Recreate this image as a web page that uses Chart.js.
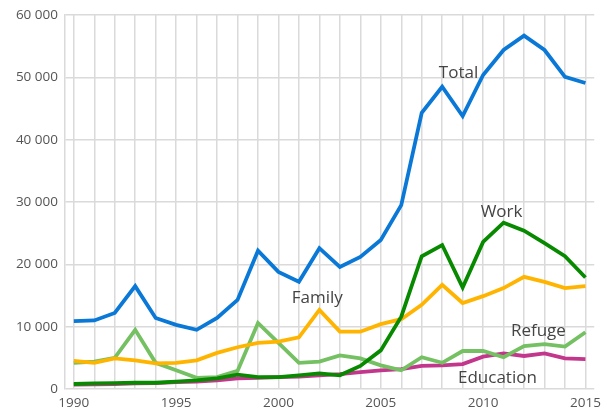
<!DOCTYPE html>
<html>
<head>
<meta charset="utf-8">
<script src="https://cdn.jsdelivr.net/npm/chart.js@4/dist/chart.umd.min.js"></script>
<style>
  html, body { margin: 0; padding: 0; background: #fff; }
  #wrap { width: 607px; height: 414px; }
</style>
</head>
<body>
<div id="wrap"><canvas id="chart"></canvas></div>
<script>
// years on the x axis
const years = [1990,1991,1992,1993,1994,1995,1996,1997,1998,1999,2000,2001,2002,
  2003,2004,2005,2006,2007,2008,2009,2010,2011,2012,2013,2014,2015];

// series values
const total = [10900,11000,12200,16500,11400,10300,9500,11400,14300,22200,18800,17200,22600,
  19600,21200,23900,29500,44300,48500,43800,50400,54400,56700,54400,50100,49100];
const work = [800,900,950,1000,1000,1200,1400,1700,2300,1900,1900,2200,2500,
  2200,3700,6200,11600,21300,23100,16300,23600,26700,25400,23400,21300,17900];
const family = [4500,4200,4900,4600,4100,4200,4600,5800,6700,7400,7600,8300,12700,
  9200,9200,10400,11200,13500,16700,13800,14900,16200,18000,17200,16200,16500];
const refuge = [4200,4400,5000,9500,4200,3000,1800,1900,2900,10600,7400,4200,4400,
  5400,4900,3800,3000,5100,4200,6100,6100,5100,6900,7200,6800,9100];
const education = [700,750,800,900,950,1100,1200,1400,1700,1800,1900,2000,2200,
  2400,2700,3000,3200,3700,3800,4000,5200,5700,5300,5700,4900,4800];

// in-chart series labels (data coordinates)
const labelNames = ['Total','Work','Family','Refuge','Education'];
const labelX = [2008.8, 2010.9, 2001.9, 2012.7, 2010.7];
const labelY = [50700, 28400, 14600, 9300, 1800];

const yTicks = [0,10000,20000,30000,40000,50000,60000];
const xLabelYears = [1990,1995,2000,2005,2010,2015];

function pts(vals) {
  return vals.map((v, i) => ({ x: years[i], y: v }));
}

function fmt(n) {
  return String(n).replace(/\B(?=(\d{3})+(?!\d))/g, ' ');
}

const seriesLabels = {
  id: 'seriesLabels',
  afterDatasetsDraw(chart) {
    const { ctx, scales: { x, y } } = chart;
    ctx.save();
    ctx.font = '17px "Open Sans"';
    ctx.fillStyle = '#444';
    ctx.textAlign = 'center';
    ctx.textBaseline = 'middle';
    labelNames.forEach((name, i) => {
      ctx.fillText(name, x.getPixelForValue(labelX[i]), y.getPixelForValue(labelY[i]));
    });
    ctx.restore();
  }
};

function line(label, data, color) {
  return {
    label: label,
    data: pts(data),
    borderColor: color,
    backgroundColor: color,
    borderWidth: 3.8,
    pointRadius: 0,
    tension: 0,
    fill: false
  };
}

new Chart(document.getElementById('chart'), {
  type: 'line',
  data: {
    datasets: [
      line('Total', total, '#0a78d6'),
      line('Work', work, '#078a00'),
      line('Family', family, '#ffb400'),
      line('Refuge', refuge, '#74c062'),
      line('Education', education, '#c2378c')
    ]
  },
  plugins: [seriesLabels],
  options: {
    responsive: true,
    maintainAspectRatio: false,
    animation: false,
    layout: { padding: { top: 15, right: 7, left: 0, bottom: 0 } },
    plugins: { legend: { display: false }, tooltip: { enabled: false } },
    scales: {
      x: {
        type: 'linear',
        min: 1989.57,
        max: 2015.43,
        afterBuildTicks: (s) => { s.ticks = years.map(v => ({ value: v })); },
        afterFit: (s) => { s.height = 25; },
        grid: { color: '#dadada', lineWidth: 1.5, drawTicks: false },
        border: { display: false },
        ticks: {
          autoSkip: false,
          maxRotation: 0,
          padding: 6,
          color: '#555',
          font: { family: 'Open Sans', size: 13.5 },
          callback: (v) => xLabelYears.includes(v) ? String(v) : ''
        }
      },
      y: {
        min: 0,
        max: 60000,
        afterBuildTicks: (s) => { s.ticks = yTicks.map(v => ({ value: v })); },
        afterFit: (s) => { s.width = 65; },
        grid: { color: '#dadada', lineWidth: 1.5, drawTicks: false },
        border: { display: true, color: '#dadada', width: 1.5 },
        ticks: {
          padding: 7,
          color: '#555',
          font: { family: 'Open Sans', size: 13.5 },
          callback: (v) => fmt(v)
        }
      }
    }
  }
});
</script>
</body>
</html>
